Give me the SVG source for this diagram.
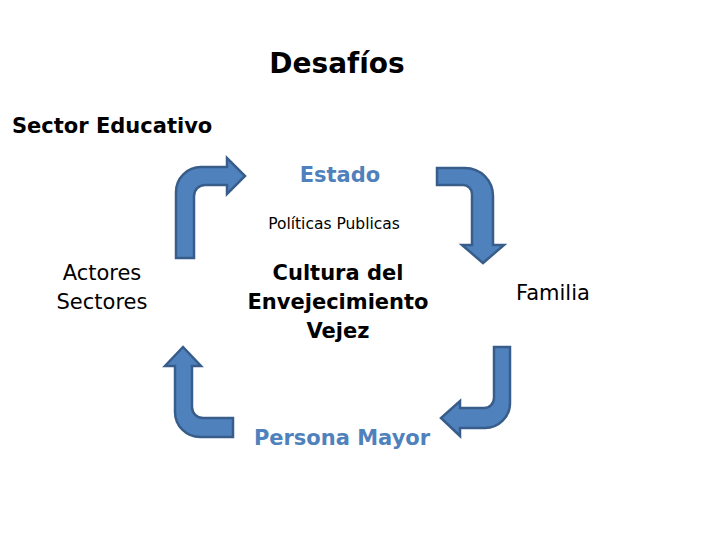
<svg xmlns="http://www.w3.org/2000/svg" width="720" height="540" viewBox="0 0 720 540">
<style>
text{font-family:"DejaVu Sans",Tahoma,Verdana,sans-serif;fill:#000}
.b{font-weight:bold}
.blue{fill:#4F81BD}
.arr{fill:#4F81BD;stroke:#385D8A;stroke-width:2.5;stroke-linejoin:miter}
</style>
<rect width="720" height="540" fill="#fff"/>
<g id="title"><text x="337" y="73" text-anchor="middle" class="b" font-size="28">Desafíos</text></g>
<g id="sector-educativo"><text x="12" y="133" class="b" font-size="21">Sector Educativo</text></g>
<g id="estado"><text x="340" y="182" text-anchor="middle" class="b blue" font-size="21">Estado</text></g>
<g id="politicas"><text x="334" y="229" text-anchor="middle" font-size="15.5">Políticas Publicas</text></g>
<g id="actores"><text text-anchor="middle" font-size="21"><tspan x="102" y="280">Actores</tspan><tspan x="102" y="309">Sectores</tspan></text></g>
<g id="cultura"><text text-anchor="middle" class="b" font-size="21"><tspan x="338" y="280">Cultura del</tspan><tspan x="338" y="309">Envejecimiento</tspan><tspan x="338" y="338">Vejez</tspan></text></g>
<g id="familia"><text x="553" y="300" text-anchor="middle" font-size="21">Familia</text></g>
<g id="persona-mayor"><text x="342" y="445" text-anchor="middle" class="b blue" font-size="21">Persona Mayor</text></g>
<g id="connectors">
<path class="arr" d="M176,258 L176,192 A25,25 0 0 1 201,167 L227,167 L227,158 L245,176 L227,194 L227,185 L205,185 A11,11 0 0 0 194,196 L194,258 Z"/>
<path class="arr" d="M437,168 L465,168 A28,28 0 0 1 493,196 L493,245 L504,245 L483,263 L462,245 L472,245 L472,194 A9,9 0 0 0 463,185 L437,185 Z"/>
<path class="arr" d="M233,418 L203,418 A11,11 0 0 1 192,407 L192,366 L201,366 L183,347 L165,366 L175,366 L175,412 A25,25 0 0 0 200,437 L233,437 Z"/>
<path class="arr" d="M494,347 L510,347 L510,403 A25,25 0 0 1 485,428 L460,428 L460,436 L441,418 L460,401 L460,408 L484,408 A10,10 0 0 0 494,398 Z"/>
</g>
</svg>
